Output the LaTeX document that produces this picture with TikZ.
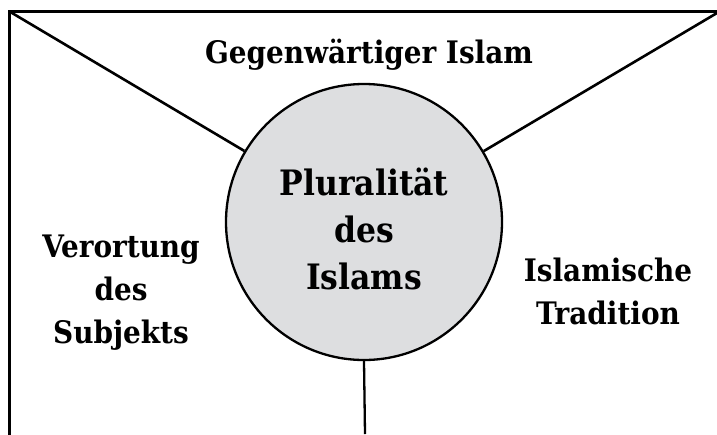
\documentclass[tikz,border=0pt]{standalone}
\usepackage{fontspec}
\setmainfont{DejaVu Serif Condensed}
\usepackage{tikz}
\usetikzlibrary{positioning,calc}
\usepackage{xcolor}
\definecolor{circlegray}{RGB}{221, 222, 224}

\begin{document}
\begin{tikzpicture}[
    x=1pt, y=-1pt,
    frame/.style={line width=3pt, line cap=rect},
    spoke/.style={line width=2.6pt},
    centre/.style={circle, draw, line width=2.3pt, fill=circlegray, minimum size=276pt, inner sep=0pt},
    centretext/.style={align=center, anchor=base, font=\fontsize{35}{47}\selectfont\bfseries},
    field/.style={align=center, anchor=base, font=\fontsize{31}{43}\selectfont\bfseries}
]
    \useasboundingbox (0,0) rectangle (717,434);

    % Frame corners and free ends
    \coordinate (tl) at (9.5,11.5);
    \coordinate (bl) at (9.5,434);
    \coordinate (tr) at (717,11.5);
    \coordinate (sr) at (717,13);
    \coordinate (bot) at (365,434);

    % Central circle
    \node[centre] (plural) at (364,222) {};
    \node[centretext] (pltext) at (364,289) {Pluralität\\des\\Islams};

    % Open frame
    \draw[frame] (bl) -- (tl) -- (tr);

    % Spokes to the circle
    \draw[spoke] (tl) -- (plural);
    \draw[spoke] (sr) -- (plural);
    \draw[line width=2.3pt] (plural.south) -- (bot);

    % Field labels (base = last line)
    \node[field] (gegen) at (369,63) {Gegenwärtiger Islam};
    \node[field] (subj) at (121,343) {Verortung\\des\\Subjekts};
    \node[field] (trad) at (608,324) {Islamische\\Tradition};
\end{tikzpicture}
\end{document}
